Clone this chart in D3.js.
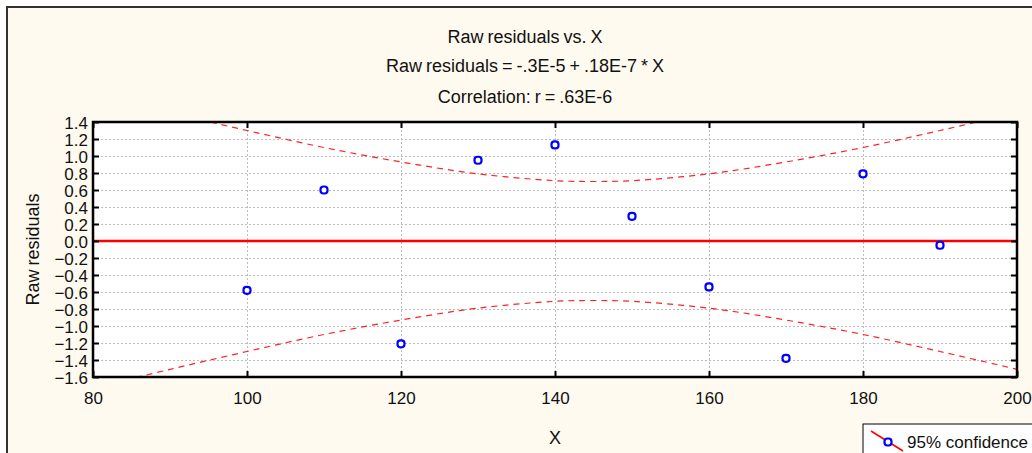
<!DOCTYPE html>
<html>
<head>
<meta charset="utf-8">
<script src="https://cdn.jsdelivr.net/npm/d3@7"></script>
<style>
  body { margin: 0; background: #fff; }
  text { font-family: "Liberation Sans", Arial, sans-serif; fill: #111; }
</style>
</head>
<body>
<svg id="chart" width="1032" height="453"></svg>
<script>
"use strict"

// observed residuals
var xs = [100, 110, 120, 130, 140, 150, 160, 170, 180, 190];
var residuals = [-0.58, 0.60, -1.21, 0.95, 1.13, 0.29, -0.54, -1.38, 0.79, -0.05];

// 95% confidence band (half width)
var bandX = [80, 90, 100, 110, 120, 130, 140, 145, 150, 160, 170, 180, 190, 200];
var bandHalf = [1.73, 1.51, 1.30, 1.10, 0.93, 0.79, 0.71, 0.70, 0.71, 0.79, 0.93, 1.10, 1.30, 1.51];

var xTicks = [80, 100, 120, 140, 160, 180, 200];
var yTicks = [1.4, 1.2, 1.0, 0.8, 0.6, 0.4, 0.2, 0.0, -0.2, -0.4, -0.6, -0.8, -1.0, -1.2, -1.4, -1.6];

var titles = ["Raw residuals vs. X", "Raw residuals = -.3E-5 + .18E-7 * X", "Correlation: r = .63E-6"];

var svg = d3.select("#chart");

// outer frame
svg.append("rect")
    .attr("x", 7).attr("y", 7)
    .attr("width", 1040).attr("height", 460)
    .attr("fill", "#fffaef")
    .attr("stroke", "#333")
    .attr("stroke-width", 2);

var pLeft = 93, pRight = 1017, pTop = 122, pBottom = 377;

var x = d3.scaleLinear().domain([80, 200]).range([pLeft, pRight]);
var y = d3.scaleLinear().domain([-1.6, 1.4]).range([pBottom, pTop]);

// plot background
svg.append("rect")
    .attr("x", pLeft).attr("y", pTop)
    .attr("width", pRight - pLeft).attr("height", pBottom - pTop)
    .attr("fill", "#fff");

svg.append("clipPath").attr("id", "clip")
    .append("rect")
    .attr("x", pLeft).attr("y", pTop)
    .attr("width", pRight - pLeft).attr("height", pBottom - pTop);

// grid
var grid = svg.append("g")
    .attr("stroke", "#bbb")
    .attr("stroke-dasharray", "2,2")
    .attr("stroke-width", 1);

grid.selectAll("line.v")
    .data(xTicks.slice(1, -1))
    .enter().append("line")
    .attr("x1", function (d) { return Math.round(x(d)) + 0.5; })
    .attr("x2", function (d) { return Math.round(x(d)) + 0.5; })
    .attr("y1", pTop).attr("y2", pBottom);

grid.selectAll("line.h")
    .data(yTicks.slice(1, -1))
    .enter().append("line")
    .attr("y1", function (d) { return Math.round(y(d)) + 0.5; })
    .attr("y2", function (d) { return Math.round(y(d)) + 0.5; })
    .attr("x1", pLeft).attr("x2", pRight);

// confidence band
var plot = svg.append("g").attr("clip-path", "url(#clip)");

var bandLine = d3.line()
    .x(function (d, i) { return x(bandX[i]); })
    .y(function (d) { return y(d); })
    .curve(d3.curveCatmullRom);

plot.append("path")
    .attr("d", bandLine(bandHalf))
    .attr("fill", "none")
    .attr("stroke", "#f22")
    .attr("stroke-width", 1.2)
    .attr("stroke-dasharray", "6,5");

plot.append("path")
    .attr("d", bandLine(bandHalf.map(function (d) { return -d; })))
    .attr("fill", "none")
    .attr("stroke", "#f22")
    .attr("stroke-width", 1.2)
    .attr("stroke-dasharray", "6,5");

// fitted line (zero)
plot.append("line")
    .attr("x1", pLeft).attr("x2", pRight)
    .attr("y1", y(0)).attr("y2", y(0))
    .attr("stroke", "#f00")
    .attr("stroke-width", 2.5);

// points
svg.append("g").selectAll("rect")
    .data(residuals)
    .enter().append("rect")
    .attr("x", function (d, i) { return x(xs[i]) - 3.5; })
    .attr("y", function (d) { return y(d) - 3.5; })
    .attr("width", 7).attr("height", 7)
    .attr("rx", 3)
    .attr("fill", "#fff")
    .attr("stroke", "#00f")
    .attr("stroke-width", 2.2);

// axes, ticks pointing inward
var fmt = d3.format(".1f");
var axisL = svg.append("g").attr("transform", "translate(" + pLeft + ",0)")
    .call(d3.axisLeft(y).tickValues(yTicks).tickSize(-6).tickPadding(5).tickFormat(fmt));
var axisR = svg.append("g").attr("transform", "translate(" + pRight + ",0)")
    .call(d3.axisRight(y).tickValues(yTicks).tickSize(-6).tickFormat(""));
var axisB = svg.append("g").attr("transform", "translate(0," + pBottom + ")")
    .call(d3.axisBottom(x).tickValues(xTicks).tickSize(-6).tickPadding(15));
var axisT = svg.append("g").attr("transform", "translate(0," + pTop + ")")
    .call(d3.axisTop(x).tickValues(xTicks).tickSize(-6).tickFormat(""));

[axisL, axisR, axisB, axisT].forEach(function (a) {
    a.select(".domain").remove();
    a.selectAll(".tick line").attr("stroke", "#000").attr("stroke-width", 2);
    a.selectAll(".tick text")
        .style("font-family", '"Liberation Sans", Arial, sans-serif')
        .style("font-size", "17px")
        .attr("fill", "#111");
});
axisL.selectAll(".tick text").attr("dy", "0.36em");

svg.append("rect")
    .attr("x", pLeft).attr("y", pTop)
    .attr("width", pRight - pLeft).attr("height", pBottom - pTop)
    .attr("fill", "none")
    .attr("stroke", "#000")
    .attr("stroke-width", 2.5);

// titles
var titleY = [43, 72, 103];
svg.selectAll("text.title")
    .data(titles)
    .enter().append("text")
    .attr("class", "title")
    .attr("x", 525)
    .attr("y", function (d, i) { return titleY[i]; })
    .attr("text-anchor", "middle")
    .style("font-size", "18px")
    .style("word-spacing", "-1px")
    .text(function (d) { return d; });

svg.append("text")
    .attr("x", (pLeft + pRight) / 2)
    .attr("y", 444)
    .attr("text-anchor", "middle")
    .style("font-size", "18px")
    .text("X");

svg.append("text")
    .attr("transform", "translate(39," + ((pTop + pBottom) / 2) + ") rotate(-90)")
    .attr("text-anchor", "middle")
    .style("font-size", "18px")
    .style("word-spacing", "-1px")
    .text("Raw residuals");

// legend
var legend = svg.append("g").attr("class", "legend");
legend.append("rect")
    .attr("x", 863).attr("y", 424)
    .attr("width", 200).attr("height", 60)
    .attr("fill", "#fff")
    .attr("stroke", "#000")
    .attr("stroke-width", 1);
legend.append("line")
    .attr("x1", 871).attr("y1", 431)
    .attr("x2", 903).attr("y2", 451)
    .attr("stroke", "#f00")
    .attr("stroke-width", 1.5);
legend.append("rect")
    .attr("x", 884.5).attr("y", 438.5)
    .attr("width", 7).attr("height", 7)
    .attr("rx", 3)
    .attr("fill", "#fff")
    .attr("stroke", "#00f")
    .attr("stroke-width", 2.2);
legend.append("text")
    .attr("x", 907).attr("y", 448)
    .style("font-size", "17px")
    .text("95% confidence");
</script>
</body>
</html>
